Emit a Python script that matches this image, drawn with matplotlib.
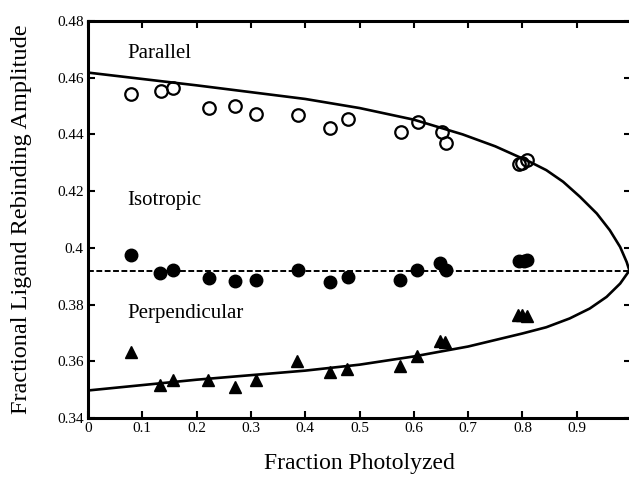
import matplotlib.pyplot as plt

plt.rcParams['font.family'] = ['Liberation Serif', 'DejaVu Serif']

# measured amplitudes (x = fraction photolyzed)
par_x = [0.080, 0.134, 0.156, 0.222, 0.271, 0.310, 0.387, 0.446, 0.479,
         0.576, 0.608, 0.651, 0.660, 0.794, 0.800, 0.809]
par_y = [0.4541, 0.4554, 0.4562, 0.4492, 0.4501, 0.4472, 0.4467, 0.4421, 0.4456,
         0.4409, 0.4442, 0.4409, 0.4368, 0.4295, 0.4298, 0.4309]

iso_x = [0.079, 0.133, 0.156, 0.222, 0.270, 0.310, 0.387, 0.445, 0.479,
         0.574, 0.606, 0.649, 0.660, 0.794, 0.803, 0.809]
iso_y = [0.3974, 0.3910, 0.3923, 0.3894, 0.3882, 0.3888, 0.3921, 0.3880, 0.3897,
         0.3886, 0.3921, 0.3945, 0.3921, 0.3953, 0.3953, 0.3956]

perp_x = [0.079, 0.133, 0.156, 0.221, 0.270, 0.310, 0.385, 0.445, 0.477,
          0.574, 0.605, 0.649, 0.657, 0.791, 0.800, 0.809]
perp_y = [0.3633, 0.3518, 0.3535, 0.3533, 0.3509, 0.3535, 0.3600, 0.3562, 0.3574,
          0.3582, 0.3617, 0.3671, 0.3668, 0.3762, 0.3762, 0.3759]

# model curves
fit_par_x = [0.0, 0.2, 0.4, 0.5, 0.6, 0.69, 0.75, 0.814, 0.844, 0.875, 0.906,
             0.937, 0.961, 0.980, 0.992, 0.997]
fit_par_y = [0.4618, 0.4573, 0.4525, 0.4493, 0.4452, 0.4400, 0.4358, 0.4303,
             0.4274, 0.4233, 0.4180, 0.4121, 0.4062, 0.4003, 0.3950, 0.3920]
fit_perp_x = [0.0, 0.2, 0.4, 0.5, 0.6, 0.7, 0.8, 0.844, 0.887, 0.924, 0.955,
              0.980, 0.997]
fit_perp_y = [0.3497, 0.3535, 0.3567, 0.3588, 0.3617, 0.3652, 0.3698, 0.3720,
              0.3751, 0.3786, 0.3827, 0.3874, 0.3920]
iso_level = 0.392

fig = plt.figure(figsize=(6.29, 4.80), dpi=100)
ax = fig.add_axes([0.1399, 0.1292, 0.8633, 0.8271])

ax.plot(fit_par_x, fit_par_y, color='black', lw=1.9)
ax.plot(fit_perp_x, fit_perp_y, color='black', lw=1.9)
ax.axhline(iso_level, color='black', lw=1.4, linestyle=(0, (3, 1.3)))

ax.plot(par_x, par_y, 'o', ms=9, mfc='none', mec='black', mew=1.6)
ax.plot(iso_x, iso_y, 'o', ms=9, color='black')
ax.plot(perp_x, perp_y, '^', ms=9, color='black')

ax.text(0.072, 0.4687, 'Parallel', fontsize=15, va='center')
ax.text(0.072, 0.4168, 'Isotropic', fontsize=15, va='center')
ax.text(0.072, 0.3769, 'Perpendicular', fontsize=15, va='center')

ax.set_xlim(0, 1)
ax.set_ylim(0.34, 0.48)
ax.set_xticks([0, 0.1, 0.2, 0.3, 0.4, 0.5, 0.6, 0.7, 0.8, 0.9])
ax.set_xticklabels(['0', '0.1', '0.2', '0.3', '0.4', '0.5', '0.6', '0.7', '0.8', '0.9'])
ax.set_yticks([0.34, 0.36, 0.38, 0.40, 0.42, 0.44, 0.46, 0.48])
ax.set_yticklabels(['0.34', '0.36', '0.38', '0.4', '0.42', '0.44', '0.46', '0.48'])
ax.tick_params(direction='in', length=5, width=1.5, top=True, right=True,
               labelsize=11, pad=3)
for side in ['left', 'bottom', 'top', 'right']:
    ax.spines[side].set_linewidth(2.2)

ax.set_xlabel('Fraction Photolyzed', fontsize=17, labelpad=13)
ax.set_ylabel('Fractional Ligand Rebinding Amplitude', fontsize=17.5, labelpad=18)

fig.savefig('out.png', dpi=100)
